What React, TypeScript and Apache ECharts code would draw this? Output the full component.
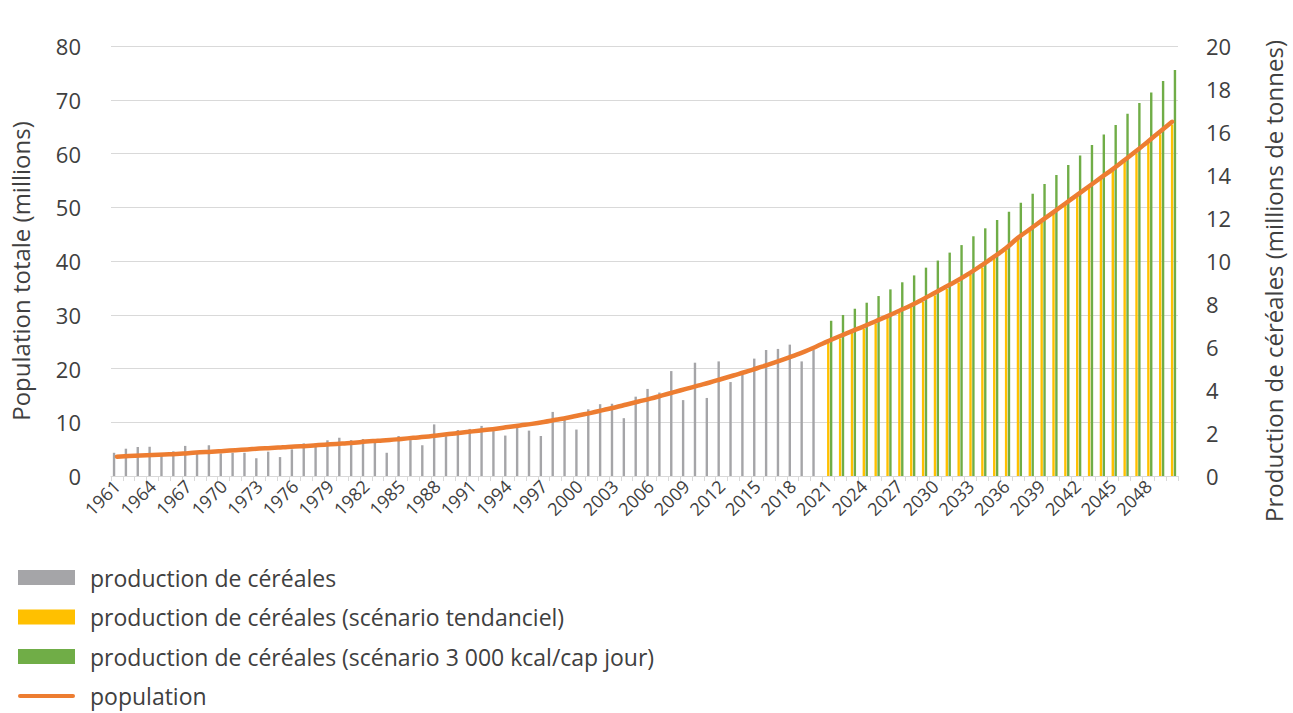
import React, { useEffect, useRef } from "react";
import * as echarts from "echarts";

const years: string[] = Array.from({ length: 90 }, (_, i) => String(1961 + i));

// production de céréales (millions de tonnes), 1961–2020
const cerealProduction = [
  1.08, 1.27, 1.35, 1.36, 0.95, 1.15, 1.4, 1.05, 1.43, 1.05,
  1.08, 1.08, 0.82, 1.13, 0.88, 1.24, 1.52, 1.5, 1.66, 1.78,
  1.67, 1.72, 1.72, 1.08, 1.86, 1.67, 1.43, 2.4, 1.85, 2.14,
  2.19, 2.33, 2.09, 1.88, 2.25, 2.11, 1.86, 2.98, 2.68, 2.16,
  3.1, 3.34, 3.36, 2.69, 3.69, 4.05, 3.88, 4.88, 3.53, 5.27,
  3.63, 5.33, 4.37, 4.7, 5.46, 5.86, 5.91, 6.11, 5.33, 5.88,
];

// scénario tendanciel, 2021–2050
const trendScenario = [
  6.2, 6.4, 6.65, 6.85, 7.1, 7.35, 7.6, 7.85, 8.1, 8.4,
  8.7, 9.0, 9.35, 9.7, 10.1, 10.5, 11.0, 11.4, 11.8, 12.2,
  12.6, 13.0, 13.4, 13.8, 14.2, 14.6, 15.0, 15.5, 15.9, 16.35,
];

// scénario 3 000 kcal/cap jour, 2021–2050
const kcalScenario = [
  7.22, 7.49, 7.78, 8.06, 8.37, 8.68, 9.01, 9.33, 9.69, 10.02,
  10.39, 10.74, 11.15, 11.52, 11.91, 12.29, 12.71, 13.13, 13.58, 14.0,
  14.47, 14.91, 15.4, 15.88, 16.33, 16.85, 17.35, 17.84, 18.37, 18.88,
];

// population totale (millions), 1961–2050
const population = [
  3.6, 3.7, 3.8, 3.9, 4.0, 4.1, 4.25, 4.4, 4.5, 4.65,
  4.8, 4.95, 5.1, 5.2, 5.35, 5.5, 5.6, 5.75, 5.9, 6.05,
  6.2, 6.4, 6.55, 6.7, 6.9, 7.1, 7.3, 7.55, 7.8, 8.05,
  8.3, 8.55, 8.8, 9.1, 9.4, 9.7, 10.05, 10.45, 10.85, 11.3,
  11.75, 12.25, 12.75, 13.3, 13.85, 14.4, 15.0, 15.6, 16.2, 16.8,
  17.4, 18.05, 18.7, 19.35, 20.05, 20.75, 21.5, 22.3, 23.15, 24.1,
  25.1, 26.05, 26.95, 27.85, 28.8, 29.75, 30.75, 31.75, 32.9, 34.1,
  35.3, 36.5, 37.85, 39.3, 40.8, 42.4, 44.3, 45.9, 47.5, 49.1,
  50.7, 52.3, 53.9, 55.5, 57.1, 58.8, 60.5, 62.3, 64.1, 65.9,
];

const leftTicks = { min: 0, max: 80, interval: 10 };
const rightTicks = { min: 0, max: 20, interval: 2 };

const FONT = "'Open Sans', 'Noto Sans', sans-serif";
const TEXT = "#404040";

export default function App() {
  const ref = useRef<HTMLDivElement>(null);

  useEffect(() => {
    if (!ref.current) return;
    document.body.style.margin = "0";
    document.body.style.overflow = "hidden";
    document.documentElement.style.overflow = "hidden";
    const chart = echarts.init(ref.current, undefined, { renderer: "svg" });

    const greyData = [...cerealProduction, ...Array(30).fill(null)];
    const yellowData = [...Array(60).fill(null), ...trendScenario];
    const greenData = [...Array(60).fill(null), ...kcalScenario];

    chart.setOption({
      animation: false,
      textStyle: { fontFamily: FONT },
      grid: { left: 110, right: 105, top: 46, bottom: 237, containLabel: false },
      legend: {
        orient: "vertical",
        left: 18,
        top: 566,
        height: 300,
        padding: 0,
        itemWidth: 57,
        itemHeight: 15,
        itemGap: 16.5,
        textStyle: {
          fontFamily: FONT,
          fontSize: 23,
          color: TEXT,
          lineHeight: 23,
          padding: [0, 0, 0, 10],
        },
        data: [
          { name: "production de céréales", icon: "rect" },
          { name: "production de céréales (scénario tendanciel)", icon: "rect" },
          { name: "production de céréales (scénario 3 000 kcal/cap jour)", icon: "rect" },
          {
            name: "population",
            icon: "path://M2,0 L55,0 A2,2 0 0 1 55,4 L2,4 A2,2 0 0 1 2,0 Z",
            itemStyle: { color: "#ED7D31" },
          },
        ],
      },
      xAxis: {
        type: "category",
        data: years,
        boundaryGap: true,
        axisLine: { show: true, lineStyle: { color: "#D9D9D9", width: 1 } },
        axisTick: { show: true, interval: 0, length: 5, lineStyle: { color: "#D9D9D9" } },
        axisLabel: {
          interval: 2,
          rotate: 45,
          fontSize: 18,
          color: TEXT,
          fontFamily: FONT,
          margin: 7,
        },
      },
      yAxis: [
        {
          type: "value",
          ...leftTicks,
          name: "Population totale (millions)",
          nameLocation: "middle",
          nameGap: 79,
          nameTextStyle: { fontSize: 24, color: TEXT, fontFamily: FONT, padding: [0, 20, 0, 0] },
          axisLine: { show: false },
          axisTick: { show: false },
          axisLabel: { fontSize: 22, color: TEXT, fontFamily: FONT, margin: 30 },
          splitLine: { show: true, lineStyle: { color: "#D9D9D9", width: 1 } },
        },
        {
          type: "value",
          ...rightTicks,
          name: "Production de céréales (millions de tonnes)",
          nameLocation: "middle",
          nameGap: 83,
          nameRotate: 90,
          nameTextStyle: { fontSize: 24, color: TEXT, fontFamily: FONT, padding: [0, 40, 0, 0] },
          axisLine: { show: false },
          axisTick: { show: false },
          axisLabel: { fontSize: 22, color: TEXT, fontFamily: FONT, margin: 28 },
          splitLine: { show: false },
        },
      ],
      series: [
        {
          name: "production de céréales",
          type: "bar",
          yAxisIndex: 1,
          data: greyData,
          barWidth: 2.4,
          barGap: "20%",
          itemStyle: { color: "#A5A5A8" },
        },
        {
          name: "production de céréales (scénario tendanciel)",
          type: "bar",
          yAxisIndex: 1,
          data: yellowData,
          barWidth: 2.4,
          barGap: "20%",
          itemStyle: { color: "#FFC000" },
        },
        {
          name: "production de céréales (scénario 3 000 kcal/cap jour)",
          type: "bar",
          yAxisIndex: 1,
          data: greenData,
          barWidth: 2.4,
          barGap: "20%",
          itemStyle: { color: "#70AD47" },
        },
        {
          name: "population",
          type: "line",
          yAxisIndex: 0,
          data: population,
          smooth: true,
          symbol: "none",
          showSymbol: false,
          lineStyle: { color: "#ED7D31", width: 4.5, cap: "round" },
          itemStyle: { color: "#ED7D31" },
          z: 5,
        },
      ],
    });

    return () => chart.dispose();
  }, []);

  return <div ref={ref} style={{ width: 1293, height: 713 }} />;
}
